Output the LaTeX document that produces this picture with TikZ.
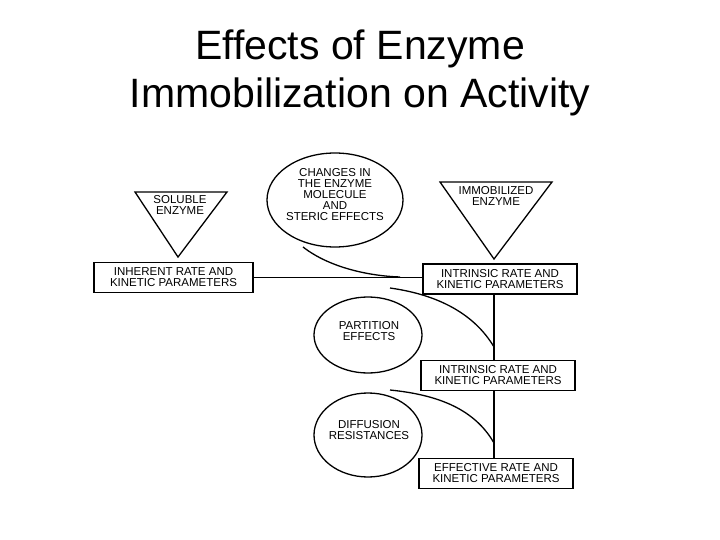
\documentclass[tikz,border=0pt]{standalone}
\usepackage{fontspec}
\setmainfont{Liberation Sans}
\begin{document}
\begin{tikzpicture}[x=1pt,y=-1pt,line width=1.3pt,
  lbl/.style={font=\fontsize{11.5}{11}\selectfont,align=center,inner sep=0pt},
  box/.style={draw,lbl,minimum width=#1,minimum height=30,inner sep=0pt}]
\useasboundingbox (0,0) rectangle (720,540);
\node[font=\fontsize{41}{48}\selectfont,align=center] (title) at (360,73) {Effects of Enzyme\\Immobilization on Activity};
% triangles
\draw (135,192) -- (227,192) -- (178,257) -- cycle;
\node[lbl] (sol) at (180,205) {SOLUBLE\\ENZYME};
\draw (440,182) -- (552,182) -- (494,259) -- cycle;
\node[lbl] (imm) at (496,196) {IMMOBILIZED\\ENZYME};
% ellipses
\draw (335,200) ellipse [x radius=68,y radius=47];
\node[lbl] (chg) at (335,195) {CHANGES IN\\THE ENZYME\\MOLECULE\\AND\\STERIC EFFECTS};
\draw (368,335) ellipse [x radius=54,y radius=38];
\node[lbl] (part) at (369,331) {PARTITION\\EFFECTS};
\draw (368,435) ellipse [x radius=54,y radius=42];
\node[lbl] (diff) at (369,430) {DIFFUSION\\RESISTANCES};
% boxes
\node[box=159] (inh) at (173.5,277.5) {INHERENT RATE AND\\KINETIC PARAMETERS};
\node[box=154] (b1) at (500,279) {INTRINSIC RATE AND\\KINETIC PARAMETERS};
\node[box=154] (b2) at (498,375.5) {INTRINSIC RATE AND\\KINETIC PARAMETERS};
\node[box=154] (b3) at (496,473.5) {EFFECTIVE RATE AND\\KINETIC PARAMETERS};
% connectors
\draw (inh.east) -- (inh.east -| b1.west);
\draw (b1.south -| 494,0) -- (b2.north -| 494,0);
\draw (b2.south -| 494,0) -- (b3.north -| 494,0);
\coordinate (c1a) at (303,247); \coordinate (c1b) at (400,277);
\draw (c1a) .. controls (330,268) and (370,276) .. (c1b);
\coordinate (c2a) at (390,288); \coordinate (c2b) at (494,347);
\draw (c2a) .. controls (440,295) and (475,315) .. (c2b);
\coordinate (c3a) at (390,390); \coordinate (c3b) at (494,443);
\draw (c3a) .. controls (440,395) and (475,410) .. (c3b);
\end{tikzpicture}
\end{document}
